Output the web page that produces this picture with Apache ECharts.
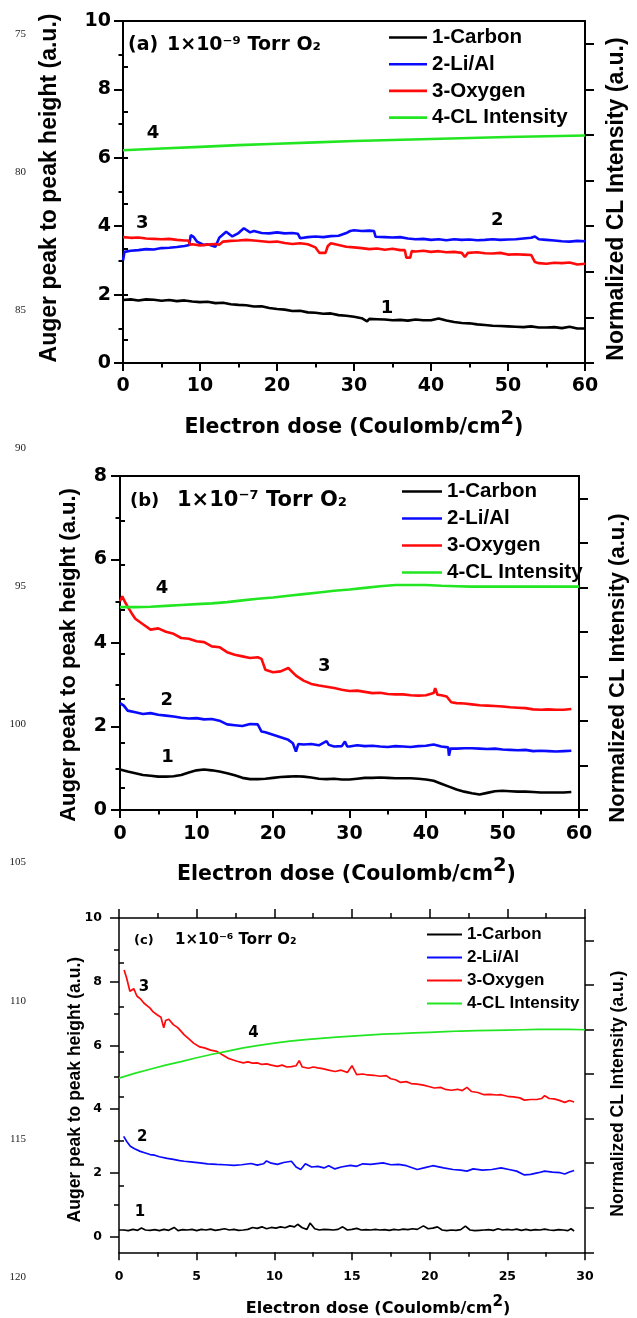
<!DOCTYPE html>
<html><head><meta charset="utf-8">
<script src="https://cdn.jsdelivr.net/npm/echarts@6/dist/echarts.min.js"></script>
<style>html,body{margin:0;padding:0;background:#fff}#c{width:637px;height:1318px}</style>
</head><body><div id="c"></div>
<script>
const seriesNames = ['1-Carbon', '2-Li/Al', '3-Oxygen', '4-CL Intensity'];
const seriesColors = ['#000000', '#0a0aff', '#ff0a0a', '#22e622'];
const tagLabels = ['1', '2', '3', '4'];
const lineNumbers = [75, 80, 85, 90, 95, 100, 105, 110, 115, 120];
const panelLabels = ['(a)', '(b)', '(c)'];
const pressureLabels = ['1×10⁻⁹ Torr O₂', '1×10⁻⁷ Torr O₂', '1×10⁻⁶ Torr O₂'];
const xName = 'Electron dose (Coulomb/cm{s|2})';
const yNameLeft = 'Auger peak to peak height (a.u.)';
const yNameRight = 'Normalized CL Intensity (a.u.)';

// ---------- panel (a) : 1e-9 Torr O2 ----------
const aCarbon = [[0,1.84],[1,1.86],[2,1.83],[3,1.86],[4,1.85],[5,1.82],[6,1.84],[7,1.81],[8,1.83],[9,1.80],[10,1.78],[11,1.79],[12,1.75],[13,1.76],[14,1.72],[15,1.70],[16,1.69],[17,1.65],[18,1.66],[19,1.61],[20,1.58],[21,1.56],[22,1.52],[23,1.53],[24,1.48],[25,1.47],[26,1.44],[27,1.45],[28,1.40],[29,1.38],[30,1.35],[31,1.31],[31.7,1.22],[32,1.29],[33,1.28],[34,1.27],[35,1.25],[36,1.26],[37,1.24],[38,1.27],[39,1.25],[40,1.25],[41,1.30],[42,1.24],[43,1.20],[44,1.17],[45,1.16],[46,1.13],[47,1.11],[48,1.09],[49,1.08],[50,1.07],[51,1.06],[52,1.05],[53,1.07],[54,1.04],[55,1.04],[56,1.05],[57,1.02],[58,1.06],[59,1.01],[60,1.01]];
const aLiAl = [[0,3.0],[0.2,3.25],[1,3.28],[2,3.30],[3,3.33],[4,3.32],[5,3.36],[6,3.37],[7,3.39],[8,3.42],[8.6,3.45],[8.8,3.74],[9.2,3.68],[9.6,3.55],[10.5,3.45],[11,3.47],[12,3.40],[12.5,3.66],[13.4,3.84],[14.2,3.70],[15,3.80],[15.7,3.94],[16.5,3.82],[17,3.86],[18,3.80],[19,3.79],[20,3.82],[21,3.79],[22,3.80],[22.7,3.78],[23,3.65],[24,3.68],[25,3.70],[26,3.68],[27,3.71],[28,3.72],[29,3.80],[29.5,3.86],[30,3.88],[31,3.86],[32,3.87],[32.6,3.86],[32.8,3.69],[34,3.68],[35,3.67],[36,3.68],[37,3.64],[38,3.62],[39,3.63],[40,3.60],[41,3.62],[42,3.59],[43,3.62],[44,3.60],[45,3.61],[46,3.59],[47,3.60],[48,3.62],[49,3.60],[50,3.61],[51,3.62],[52,3.64],[53,3.66],[53.5,3.70],[54,3.62],[55,3.60],[56,3.58],[57,3.56],[58,3.55],[59,3.57],[60,3.56]];
const aOxygen = [[0,3.68],[1,3.66],[2,3.67],[3,3.64],[4,3.63],[5,3.62],[6,3.63],[7,3.60],[8,3.58],[8.5,3.58],[8.7,3.46],[9,3.47],[10,3.44],[11,3.46],[12,3.48],[12.5,3.46],[13,3.55],[14,3.57],[15,3.58],[16,3.60],[17,3.58],[18,3.56],[19,3.54],[20,3.55],[21,3.51],[22,3.48],[23,3.50],[24,3.47],[25,3.38],[25.5,3.22],[26.3,3.22],[26.6,3.42],[27,3.50],[28,3.45],[29,3.40],[30,3.38],[31,3.36],[32,3.33],[33,3.35],[34,3.31],[35,3.34],[36,3.30],[36.6,3.30],[36.8,3.08],[37.3,3.08],[37.5,3.27],[38,3.26],[39,3.28],[40,3.25],[41,3.27],[42,3.24],[43,3.25],[44,3.22],[44.4,3.10],[44.8,3.22],[46,3.24],[47,3.21],[48,3.20],[49,3.22],[50,3.17],[51,3.18],[52,3.17],[53,3.16],[53.5,2.95],[54,2.92],[55,2.90],[56,2.93],[57,2.92],[58,2.94],[59,2.88],[60,2.90]];
const aCL = [[0,6.22],[5,6.27],[10,6.32],[15,6.37],[20,6.41],[25,6.45],[30,6.49],[35,6.52],[40,6.55],[45,6.58],[50,6.61],[55,6.63],[60,6.65]];
const aTags = [[34.3,1.61],[48.6,4.18],[2.5,4.09],[3.9,6.73]];

// ---------- panel (b) : 1e-7 Torr O2 ----------
const bCarbon = [[0,0.97],[1,0.92],[2,0.88],[3,0.84],[4,0.82],[5,0.80],[6,0.80],[7,0.81],[8,0.84],[9,0.90],[10,0.95],[11,0.97],[12,0.95],[13,0.92],[14,0.88],[15,0.83],[16,0.77],[17,0.74],[18,0.74],[19,0.75],[20,0.77],[21,0.79],[22,0.80],[23,0.81],[24,0.80],[25,0.78],[26,0.75],[27,0.74],[28,0.75],[29,0.73],[30,0.73],[31,0.75],[32,0.77],[33,0.77],[34,0.78],[35,0.77],[36,0.76],[37,0.76],[38,0.76],[39,0.75],[40,0.73],[41,0.70],[42,0.63],[43,0.56],[44,0.49],[45,0.44],[46,0.40],[47,0.37],[48,0.41],[49,0.45],[50,0.46],[51,0.45],[52,0.44],[53,0.44],[54,0.43],[55,0.42],[56,0.42],[57,0.42],[58,0.42],[59,0.43]];
const bLiAl = [[0,2.56],[0.5,2.50],[1,2.38],[2,2.34],[3,2.30],[4,2.32],[5,2.28],[6,2.26],[7,2.24],[8,2.21],[9,2.19],[10,2.20],[11,2.17],[12,2.18],[13,2.14],[14,2.05],[15,2.03],[16,2.01],[17,2.06],[18,2.05],[18.5,1.88],[19,1.86],[20,1.80],[21,1.74],[22,1.68],[22.6,1.60],[23,1.40],[23.3,1.58],[24,1.57],[25,1.58],[26,1.55],[27,1.65],[27.3,1.56],[28,1.52],[29,1.53],[29.4,1.64],[29.7,1.52],[30,1.52],[31,1.55],[32,1.53],[33,1.54],[34,1.52],[35,1.51],[36,1.53],[37,1.52],[38,1.51],[39,1.53],[40,1.54],[41,1.57],[42,1.52],[42.9,1.50],[43,1.30],[43.2,1.47],[44,1.47],[45,1.48],[46,1.48],[47,1.47],[48,1.46],[49,1.47],[50,1.45],[51,1.44],[52,1.43],[53,1.44],[54,1.41],[55,1.42],[56,1.41],[57,1.40],[58,1.41],[59,1.42]];
const bOxygen = [[0,5.00],[0.3,5.12],[0.6,5.00],[1,4.87],[1.5,4.72],[2,4.58],[3,4.45],[4,4.32],[5,4.35],[6,4.27],[7,4.22],[8,4.12],[9,4.10],[10,4.04],[11,4.02],[12,3.92],[13,3.90],[14,3.78],[15,3.72],[16,3.68],[17,3.64],[18,3.66],[18.5,3.62],[19,3.36],[20,3.30],[21,3.32],[22,3.40],[23,3.22],[24,3.10],[25,3.02],[26,2.98],[27,2.95],[28,2.92],[29,2.88],[30,2.85],[31,2.86],[32,2.83],[33,2.80],[34,2.81],[35,2.78],[36,2.77],[37,2.77],[38,2.75],[39,2.74],[40,2.75],[41,2.80],[41.2,2.92],[41.5,2.76],[42,2.75],[42.7,2.72],[43.3,2.58],[44,2.56],[45,2.55],[46,2.53],[47,2.51],[48,2.50],[49,2.49],[50,2.48],[51,2.46],[52,2.45],[53,2.44],[54,2.41],[55,2.40],[56,2.41],[57,2.40],[58,2.40],[59,2.42]];
const bCL = [[0,4.86],[2,4.86],[4,4.87],[6,4.89],[8,4.91],[10,4.93],[12,4.95],[14,4.98],[16,5.02],[18,5.06],[20,5.09],[22,5.13],[24,5.17],[26,5.21],[28,5.25],[30,5.28],[32,5.32],[34,5.36],[36,5.39],[38,5.39],[40,5.39],[42,5.37],[44,5.36],[46,5.35],[48,5.35],[50,5.35],[52,5.35],[54,5.35],[56,5.35],[58,5.35],[60,5.35]];
const bTags = [[6.2,1.25],[6.1,2.63],[26.7,3.43],[5.5,5.32]];

// ---------- panel (c) : 1e-6 Torr O2 ----------
const cCarbon = [[0.3,0.20],[0.6,0.18],[0.9,0.22],[1.2,0.19],[1.45,0.26],[1.7,0.20],[2.0,0.19],[2.3,0.21],[2.6,0.18],[2.9,0.22],[3.2,0.19],[3.55,0.28],[3.8,0.18],[4.1,0.21],[4.4,0.20],[4.7,0.22],[5.0,0.18],[5.3,0.22],[5.6,0.20],[5.9,0.23],[6.2,0.19],[6.5,0.21],[6.8,0.24],[7.1,0.20],[7.4,0.22],[7.7,0.19],[8.0,0.20],[8.3,0.22],[8.6,0.28],[8.9,0.25],[9.2,0.30],[9.5,0.24],[9.8,0.28],[10.1,0.26],[10.4,0.30],[10.7,0.27],[11.0,0.33],[11.3,0.30],[11.5,0.38],[11.8,0.27],[12.1,0.22],[12.3,0.42],[12.6,0.24],[12.9,0.20],[13.2,0.22],[13.5,0.21],[13.8,0.20],[14.1,0.22],[14.4,0.30],[14.7,0.20],[15.0,0.22],[15.3,0.25],[15.6,0.20],[15.9,0.21],[16.2,0.20],[16.5,0.22],[16.8,0.20],[17.1,0.21],[17.4,0.19],[17.7,0.22],[18.0,0.20],[18.3,0.23],[18.6,0.21],[18.9,0.24],[19.2,0.22],[19.6,0.33],[19.9,0.24],[20.2,0.26],[20.5,0.30],[20.8,0.20],[21.1,0.18],[21.4,0.20],[21.7,0.19],[22.0,0.21],[22.3,0.32],[22.6,0.20],[22.9,0.18],[23.2,0.19],[23.5,0.20],[23.8,0.21],[24.1,0.19],[24.4,0.24],[24.7,0.20],[25.0,0.22],[25.3,0.20],[25.6,0.23],[25.9,0.19],[26.2,0.22],[26.5,0.19],[26.8,0.21],[27.1,0.20],[27.4,0.23],[27.7,0.20],[28.0,0.19],[28.3,0.21],[28.6,0.20],[28.9,0.18],[29.1,0.24],[29.3,0.17]];
const cLiAl = [[0.3,3.14],[0.5,2.98],[0.73,2.83],[1.0,2.75],[1.37,2.67],[1.7,2.62],[2.0,2.57],[2.3,2.55],[2.6,2.50],[3.1,2.45],[3.5,2.42],[3.9,2.38],[4.2,2.36],[4.6,2.34],[5.2,2.31],[5.7,2.28],[6.3,2.26],[6.8,2.25],[7.4,2.23],[7.9,2.25],[8.5,2.29],[8.9,2.24],[9.3,2.28],[9.5,2.37],[9.8,2.30],[10.2,2.26],[10.6,2.32],[11.1,2.36],[11.4,2.18],[11.7,2.10],[12.0,2.28],[12.4,2.18],[12.8,2.20],[13.2,2.15],[13.5,2.22],[13.9,2.12],[14.3,2.18],[14.9,2.23],[15.3,2.20],[15.7,2.28],[16.2,2.26],[17.0,2.31],[17.5,2.25],[18.0,2.26],[18.5,2.22],[19.2,2.10],[19.7,2.16],[20.2,2.22],[20.9,2.15],[21.5,2.10],[22.0,2.08],[22.4,2.05],[22.8,2.12],[23.4,2.08],[24.0,2.10],[24.6,2.15],[25.1,2.10],[25.6,2.05],[26.1,1.93],[26.5,1.95],[27.0,2.00],[27.4,2.05],[27.9,2.02],[28.4,2.00],[28.7,1.96],[29.0,2.02],[29.3,2.07]];
const cOxygen = [[0.33,8.37],[0.5,8.10],[0.7,7.70],[0.95,7.78],[1.15,7.55],[1.4,7.45],[1.6,7.33],[1.8,7.25],[2.0,7.17],[2.2,7.05],[2.45,6.96],[2.7,6.88],[2.88,6.55],[3.0,6.78],[3.2,6.82],[3.5,6.65],[3.8,6.55],[4.2,6.33],[4.5,6.20],[4.8,6.07],[5.2,5.95],[5.5,5.92],[5.9,5.85],[6.3,5.81],[6.6,5.72],[7.0,5.60],[7.3,5.55],[7.6,5.50],[8.0,5.45],[8.3,5.48],[8.6,5.44],[8.9,5.45],[9.2,5.40],[9.5,5.42],[9.8,5.38],[10.2,5.34],[10.5,5.38],[10.8,5.32],[11.1,5.33],[11.4,5.36],[11.6,5.52],[11.8,5.32],[12.2,5.28],[12.5,5.32],[12.8,5.29],[13.1,5.27],[13.5,5.22],[13.9,5.18],[14.3,5.22],[14.7,5.15],[15.0,5.36],[15.3,5.08],[15.7,5.10],[16.0,5.07],[16.4,5.06],[16.8,5.03],[17.2,5.05],[17.5,4.95],[17.8,4.92],[18.1,4.84],[18.5,4.86],[18.8,4.80],[19.2,4.78],[19.6,4.75],[20.0,4.70],[20.3,4.66],[20.7,4.68],[21.0,4.62],[21.4,4.59],[21.8,4.62],[22.1,4.58],[22.4,4.68],[22.7,4.55],[23.1,4.52],[23.5,4.45],[23.9,4.46],[24.3,4.44],[24.6,4.45],[25.0,4.40],[25.4,4.38],[25.8,4.35],[26.1,4.28],[26.5,4.30],[26.9,4.30],[27.2,4.33],[27.4,4.42],[27.7,4.33],[28.0,4.32],[28.3,4.28],[28.7,4.21],[29.0,4.27],[29.3,4.22]];
const cCL = [[0,4.97],[1,5.12],[2,5.25],[3,5.38],[4,5.49],[5,5.61],[6,5.72],[7,5.82],[8,5.92],[9,6.00],[10,6.07],[11,6.13],[12,6.18],[13,6.22],[14,6.26],[15,6.29],[16,6.32],[17,6.35],[18,6.37],[19,6.39],[20,6.41],[21,6.43],[22,6.45],[23,6.46],[24,6.47],[25,6.48],[26,6.49],[27,6.50],[28,6.50],[29,6.50],[30,6.49]];
const cTags = [[1.35,0.75],[1.5,3.13],[1.6,7.84],[8.65,6.39]];

// tick values
const aXTicks = {min: 0, max: 60, interval: 10};
const aYTicks = {min: 0, max: 10, interval: 2};
const bXTicks = {min: 0, max: 60, interval: 10};
const bYTicks = {min: 0, max: 8, interval: 2};
const cXTicks = {min: 0, max: 30, interval: 5};
const cYMajor = [0, 2, 4, 6, 8, 10];
const cYMinor = [1, 3, 5, 7, 9];
const rightMajor = [0, 2, 4, 6, 8, 10, 12, 14];
const rightMinor = [1, 3, 5, 7, 9, 11, 13];

const fontD = "'DejaVu Sans'";
const fontL = "'Liberation Sans'";
const BLACK = '#000';

function line(w) { return {show: true, onZero: false, lineStyle: {color: BLACK, width: w}}; }
function tick(len, w) { return {show: true, inside: false, length: len, lineStyle: {color: BLACK, width: w}}; }

const panels = [
  {grid: {left: 123, top: 21, width: 462, height: 342}, xt: aXTicks, yt: aYTicks, lw: 2, tickFs: 19, lm: 12, bm: 14,
   xFs: 20.5, xGap: 46, xPad: [0,0,0,0], yFs: 23, yGap: 62, yPad: [0,0,0,8], rFs: 23, rGap: 20, rPad: [0,14,0,0],
   legend: {left: 389, top: 27, itemWidth: 38, fs: 20.5, lh: 21, gap: 5.7},
   data: [aCarbon, aLiAl, aOxygen, aCL], tags: aTags, tagFs: 18, sw: 2.6,
   title: {l1: 128, l2: 167, top: 36, fs1: 19, fs2: 19}},
  {grid: {left: 120, top: 476, width: 465, height: 334}, xt: bXTicks, yt: bYTicks, lw: 2, tickFs: 19, lm: 13, bm: 15,
   xFs: 20.5, xGap: 46, xPad: [0,6,0,0], yFs: 22, yGap: 40, yPad: [0,24,0,0], rFs: 22, rGap: 28, rPad: [0,50,0,0],
   legend: {left: 402, top: 481, itemWidth: 40, fs: 20.5, lh: 21, gap: 6},
   data: [bCarbon, bLiAl, bOxygen, bCL], tags: bTags, tagFs: 18, sw: 2.6,
   title: {l1: 130, l2: 177, top: 492, fs1: 18, fs2: 21}},
  {grid: {left: 119, top: 918, width: 466, height: 335}, xt: cXTicks, yt: null, lw: 1.5, tickFs: 12.5, lm: 17, bm: 18,
   xFs: 16, xGap: 42, xPad: [0,0,0,52], yFs: 17.5, yGap: 35, yPad: [0,9,0,0], rFs: 17.5, rGap: 24, rPad: [0,17,0,0],
   legend: {left: 427, top: 926, itemWidth: 35, fs: 17, lh: 17, gap: 6},
   data: [cCarbon, cLiAl, cOxygen, cCL], tags: cTags, tagFs: 15, sw: 1.7,
   title: {l1: 134, l2: 175, top: 934, fs1: 13, fs2: 15}}
];

const grids = [], xAxes = [], yAxes = [], series = [], legends = [], titles = [];
panels.forEach((p, i) => {
  grids.push(p.grid);
  const labelStyle = {fontFamily: fontD, fontWeight: 'bold', fontSize: p.tickFs, color: BLACK};
  const xi = xAxes.length;
  xAxes.push({
    gridIndex: i, type: 'value', position: 'bottom', min: p.xt.min, max: p.xt.max, interval: p.xt.interval,
    axisLine: line(p.lw), axisTick: tick(8, p.lw),
    minorTick: {show: true, splitNumber: 2, length: 4.5, lineStyle: {color: BLACK, width: p.lw}},
    axisLabel: Object.assign({margin: p.bm}, labelStyle), splitLine: {show: false}, minorSplitLine: {show: false},
    name: xName, nameLocation: 'middle', nameGap: p.xGap, nameMoveOverlap: false,
    nameTextStyle: {fontFamily: fontD, fontWeight: 'bold', fontSize: p.xFs, color: BLACK, padding: p.xPad,
      rich: {s: {fontFamily: fontD, fontWeight: 'bold', fontSize: p.xFs * 0.95, color: BLACK, padding: [0, 0, p.xFs * 0.9, 0]}}}
  });
  const topAxis = {gridIndex: i, type: 'value', position: 'top', min: p.xt.min, max: p.xt.max, interval: p.xt.interval,
    axisLine: line(p.lw), axisTick: {show: false}, axisLabel: {show: false}, splitLine: {show: false}};
  if (i === 2) {
    topAxis.axisTick = tick(9, p.lw);
    topAxis.minorTick = {show: true, splitNumber: 2, length: 5, lineStyle: {color: BLACK, width: p.lw}};
  }
  xAxes.push(topAxis);
  const yi = yAxes.length;
  const nameLeft = {name: yNameLeft, nameLocation: 'middle', nameRotate: 90, nameGap: p.yGap, nameMoveOverlap: false,
    nameTextStyle: {fontFamily: fontL, fontWeight: 'bold', fontSize: p.yFs, color: BLACK, padding: p.yPad}};
  if (p.yt) {
    yAxes.push(Object.assign({gridIndex: i, type: 'value', position: 'left', min: p.yt.min, max: p.yt.max, interval: p.yt.interval,
      axisLine: line(p.lw), axisTick: tick(9, p.lw),
      minorTick: {show: true, splitNumber: 2, length: 4.5, lineStyle: {color: BLACK, width: p.lw}},
      axisLabel: Object.assign({margin: p.lm}, labelStyle), splitLine: {show: false}, minorSplitLine: {show: false}}, nameLeft));
  } else {
    yAxes.push(Object.assign({gridIndex: i, type: 'value', position: 'left', min: -0.5, max: 10,
      axisLine: line(p.lw), axisTick: Object.assign(tick(9, p.lw), {customValues: cYMajor}),
      axisLabel: Object.assign({margin: p.lm, customValues: cYMajor}, labelStyle), splitLine: {show: false}}, nameLeft));
    yAxes.push({gridIndex: i, type: 'value', position: 'left', min: -0.5, max: 10,
      axisLine: {show: false}, axisTick: Object.assign(tick(5, p.lw), {customValues: cYMinor}),
      axisLabel: {show: false}, splitLine: {show: false}});
  }
  yAxes.push({gridIndex: i, type: 'value', position: 'right', min: 0, max: 15,
    axisLine: line(p.lw), axisTick: Object.assign(tick(9, p.lw), {customValues: rightMajor}),
    axisLabel: {show: false}, splitLine: {show: false},
    name: yNameRight, nameLocation: 'middle', nameRotate: 90, nameGap: p.rGap, nameMoveOverlap: false,
    nameTextStyle: {fontFamily: fontL, fontWeight: 'bold', fontSize: p.rFs, color: BLACK, padding: p.rPad}});
  yAxes.push({gridIndex: i, type: 'value', position: 'right', min: 0, max: 15,
    axisLine: {show: false}, axisTick: Object.assign(tick(5, p.lw), {customValues: rightMinor}),
    axisLabel: {show: false}, splitLine: {show: false}});

  p.data.forEach((d, k) => {
    series.push({
      type: 'line', name: seriesNames[k], xAxisIndex: xi, yAxisIndex: yi, data: d,
      showSymbol: false, symbol: 'none', smooth: false, animation: false, z: k === 3 ? 3 : 2,
      lineStyle: {color: seriesColors[k], width: p.sw}, itemStyle: {color: seriesColors[k]},
      markPoint: {symbol: 'rect', symbolSize: 1, silent: true, animation: false,
        itemStyle: {color: 'transparent'},
        label: {show: true, position: 'inside', formatter: tagLabels[k], color: BLACK,
          fontFamily: fontD, fontWeight: 'bold', fontSize: p.tagFs},
        data: [{coord: p.tags[k]}]}
    });
  });

  legends.push({orient: 'vertical', left: p.legend.left, top: p.legend.top, padding: 0,
    itemWidth: p.legend.itemWidth, itemHeight: p.lw === 2 ? 2.6 : 1.8, itemGap: p.legend.gap, icon: 'rect',
    selectedMode: false, data: seriesNames,
    textStyle: {fontFamily: fontL, fontWeight: 'bold', fontSize: p.legend.fs, lineHeight: p.legend.lh, color: BLACK}});

  titles.push({text: panelLabels[i], left: p.title.l1, top: p.title.top, padding: 0,
    textStyle: {fontFamily: fontD, fontWeight: 'bold', fontSize: p.title.fs1, color: BLACK}});
  titles.push({text: pressureLabels[i], left: p.title.l2, top: p.title.top - (p.title.fs2 - p.title.fs1) / 2, padding: 0,
    textStyle: {fontFamily: fontD, fontWeight: 'bold', fontSize: p.title.fs2, color: BLACK}});
});

const graphics = lineNumbers.map((n, i) => ({
  type: 'text', x: 26, y: 34 + i * 138.1, silent: true,
  style: {text: String(n), fill: '#222', font: "11px 'Liberation Serif'", align: 'right', verticalAlign: 'middle'}
}));

const chart = echarts.init(document.getElementById('c'), null, {renderer: 'canvas'});
chart.setOption({
  animation: false, backgroundColor: '#fff',
  title: titles, legend: legends, grid: grids, xAxis: xAxes, yAxis: yAxes, series: series, graphic: graphics
});
</script></body></html>
